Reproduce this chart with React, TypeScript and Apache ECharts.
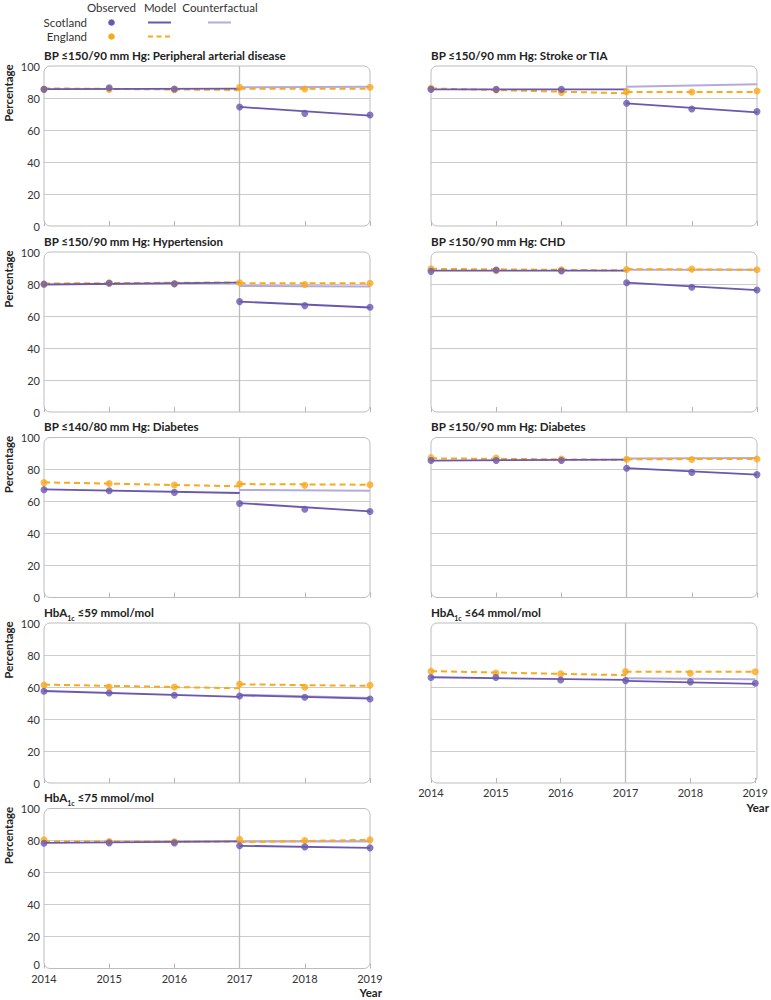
import React, { useEffect, useRef } from "react";
import * as echarts from "echarts";

// ---------- data ----------
const years = [2014, 2015, 2016, 2017, 2018, 2019];
const breakYear = 2017;
const preYears = [2014, 2017];
const postYears = [2017, 2019];
const yMin = 0;
const yMax = 100;
const yStep = 20;

const panelTitles = [
  "{b|BP ≤150/90 mm Hg: Peripheral arterial disease}",
  "{b|BP ≤150/90 mm Hg: Stroke or TIA}",
  "{b|BP ≤150/90 mm Hg: Hypertension}",
  "{b|BP ≤150/90 mm Hg: CHD}",
  "{b|BP ≤140/80 mm Hg: Diabetes}",
  "{b|BP ≤150/90 mm Hg: Diabetes}",
  "{b|HbA}{s|1c}{b| ≤59 mmol/mol}",
  "{b|HbA}{s|1c}{b| ≤64 mmol/mol}",
  "{b|HbA}{s|1c}{b| ≤75 mmol/mol}",
];

const scotlandObserved = [
  [85.4, 86.4, 85.6, 74.4, 70.4, 69.4],
  [85.4, 85.4, 85.4, 76.7, 73.1, 71.5],
  [79.9, 80.5, 80.1, 69.0, 66.5, 65.5],
  [87.9, 88.7, 88.1, 80.8, 78.0, 76.2],
  [67.4, 66.7, 65.7, 58.8, 55.2, 53.8],
  [85.6, 85.6, 85.6, 80.8, 78.2, 76.8],
  [57.3, 56.3, 54.8, 54.4, 53.6, 52.5],
  [65.9, 65.9, 64.4, 64.0, 63.2, 62.3],
  [78.3, 78.5, 78.5, 76.7, 76.0, 75.4],
];

const englandObserved = [
  [85.6, 85.4, 85.2, 86.7, 85.6, 86.7],
  [86.0, 85.0, 83.5, 84.0, 83.8, 84.4],
  [80.0, 80.7, 80.1, 80.8, 79.7, 80.5],
  [89.5, 88.5, 88.9, 89.1, 89.3, 88.9],
  [71.8, 71.3, 70.3, 70.9, 70.1, 70.5],
  [87.4, 87.2, 86.6, 86.4, 86.2, 86.6],
  [61.3, 60.0, 60.0, 61.9, 59.8, 61.1],
  [69.9, 68.8, 68.2, 69.7, 68.6, 69.5],
  [80.4, 79.4, 79.2, 80.8, 80.0, 80.4],
];

// model values at [2014, 2017] (pre) and [2017, 2019] (post)
const scotlandPreModel = [
  [85.6, 85.9], [85.4, 85.4], [79.7, 80.8], [88.3, 88.3], [67.6, 65.3],
  [85.6, 86.2], [57.5, 53.8], [66.1, 64.4], [78.5, 79.4],
];
const scotlandPostModel = [
  [74.4, 69.0], [76.7, 71.0], [69.0, 65.3], [80.8, 76.2], [59.0, 53.8],
  [80.8, 76.8], [54.8, 52.7], [63.8, 61.9], [76.7, 75.4],
];
const scotlandCounterfactual = [
  [86.7, 87.0], [87.0, 88.6], [78.7, 78.5], [88.9, 88.9], [67.2, 66.7],
  [86.8, 87.2], [55.2, 53.1], [65.5, 64.9], [79.4, 79.4],
];
const englandPreModel = [
  [86.0, 85.0], [86.0, 82.9], [80.3, 81.0], [89.5, 88.5], [72.0, 69.5],
  [87.0, 86.0], [61.5, 59.2], [69.9, 67.4], [79.4, 79.4],
];
const englandPostModel = [
  [85.8, 85.8], [83.8, 83.8], [80.5, 80.5], [89.3, 88.9], [70.9, 70.5],
  [86.4, 86.6], [61.7, 60.7], [69.5, 69.5], [79.0, 80.4],
];

const legendRows = ["Scotland", "England"];
const legendCols = ["Observed", "Model", "Counterfactual"];

// ---------- style / layout ----------
const PURPLE = "#6a57ae";
const LIGHT_PURPLE = "#b4abdc";
const ORANGE = "#f9a91b";
const FONT = "Lato, 'Noto Sans', sans-serif";
const colX = [44, 431];
const rowTop = [66, 252, 437.5, 623, 808.5];
const plotW = 326;
const plotH = 160;

const panelPos = [
  [0, 0], [1, 0], [0, 1], [1, 1], [0, 2], [1, 2], [0, 3], [1, 3], [0, 4],
];
const bottomPanels = [7, 8];

export default function App() {
  const ref = useRef<HTMLDivElement>(null);

  useEffect(() => {
    if (!ref.current) return;
    const chart = echarts.init(ref.current, undefined, { renderer: "svg" });

    const grids: any[] = [];
    const xAxes: any[] = [];
    const yAxes: any[] = [];
    const series: any[] = [];
    const graphic: any[] = [];

    panelTitles.forEach((title, i) => {
      const [c, r] = panelPos[i];
      const left = colX[c];
      const top = rowTop[r];
      const isBottom = bottomPanels.includes(i);
      const isLeft = c === 0;
      grids.push({ left, top, width: plotW, height: plotH, containLabel: false });
      xAxes.push({
        gridIndex: i,
        type: "value",
        min: years[0],
        max: years[years.length - 1],
        interval: 1,
        axisLine: { show: false },
        axisTick: { show: true, inside: true, length: 5, lineStyle: { color: "#b5b5b5" } },
        splitLine: { show: false },
        axisLabel: {
          show: isBottom,
          formatter: (v: number) => String(v),
          color: "#333",
          fontSize: 11,
          fontFamily: FONT,
          margin: 4,
        },
      });
      const liftZero = isLeft && isBottom;
      yAxes.push({
        gridIndex: i,
        type: "value",
        min: yMin,
        max: yMax,
        interval: yStep,
        axisLine: { show: false },
        axisTick: { show: false },
        splitLine: {
          show: true,
          showMinLine: false,
          showMaxLine: false,
          lineStyle: { color: "#cbcbcb", width: 1 },
        },
        axisLabel: {
          show: isLeft,
          color: "#333",
          fontSize: 11,
          fontFamily: FONT,
          margin: 4,
          formatter: (v: number) => (liftZero && v === yMin ? `{z|${v}}` : String(v)),
          rich: {
            z: { fontSize: 11, fontFamily: FONT, color: "#333", padding: [0, 0, 8, 0] },
          },
        },
      });

      const base = { xAxisIndex: i, yAxisIndex: i, silent: true };
      series.push({
        ...base,
        type: "line",
        name: "Counterfactual",
        data: postYears.map((y, k) => [y, scotlandCounterfactual[i][k]]),
        symbol: "none",
        lineStyle: { color: LIGHT_PURPLE, width: 2 },
        z: 2,
        markLine: {
          silent: true,
          symbol: "none",
          label: { show: false },
          lineStyle: { color: "#bcbcbc", width: 1.3, type: "solid" },
          data: [{ xAxis: breakYear }],
          z: 1,
        },
      });
      [englandPreModel, englandPostModel].forEach((m, j) => {
        const xs = j === 0 ? preYears : postYears;
        series.push({
          ...base,
          type: "line",
          data: xs.map((y, k) => [y, m[i][k]]),
          symbol: "none",
          lineStyle: { color: ORANGE, width: 2, type: [6, 4] },
          z: 3,
        });
      });
      [scotlandPreModel, scotlandPostModel].forEach((m, j) => {
        const xs = j === 0 ? preYears : postYears;
        series.push({
          ...base,
          type: "line",
          data: xs.map((y, k) => [y, m[i][k]]),
          symbol: "none",
          lineStyle: { color: PURPLE, width: 1.8 },
          z: 4,
        });
      });
      series.push({
        ...base,
        type: "scatter",
        data: years.map((y, k) => [y, englandObserved[i][k]]),
        symbolSize: 7,
        itemStyle: { color: ORANGE },
        z: 5,
      });
      series.push({
        ...base,
        type: "scatter",
        data: years.map((y, k) => [y, scotlandObserved[i][k]]),
        symbolSize: 7,
        itemStyle: { color: PURPLE },
        z: 6,
      });

      // rounded frame
      graphic.push({
        type: "rect",
        shape: { x: left, y: top, width: plotW, height: plotH, r: 6 },
        style: { fill: "none", stroke: "#bdbdbd", lineWidth: 1 },
        silent: true,
        z: 1,
      });
      // title
      graphic.push({
        type: "text",
        x: left,
        y: top - 11,
        style: {
          text: title,
          align: "left",
          verticalAlign: "middle",
          rich: {
            b: { fontSize: 11.6, fontWeight: "bold", fontFamily: FONT, fill: "#222", lineHeight: 18 },
            s: { fontSize: 7, fontWeight: "bold", fontFamily: FONT, fill: "#222", lineHeight: 10, verticalAlign: "bottom" },
          },
        },
        silent: true,
      });
      if (isLeft) {
        graphic.push({
          type: "text",
          x: 8,
          y: top + 27,
          rotation: Math.PI / 2,
          style: {
            text: "Percentage",
            align: "center",
            verticalAlign: "middle",
            font: `bold 11.5px ${FONT}`,
            fill: "#222",
          },
          silent: true,
        });
      }
      if (isBottom) {
        graphic.push({
          type: "text",
          x: left + plotW + 12,
          y: top + plotH + 24,
          style: {
            text: "Year",
            align: "right",
            verticalAlign: "middle",
            font: `bold 11.5px ${FONT}`,
            fill: "#222",
          },
          silent: true,
        });
      }
    });

    // legend
    const colCenters = [111.5, 160, 220];
    const rowYs = [22.5, 36.5];
    legendCols.forEach((t, k) => {
      graphic.push({
        type: "text",
        x: colCenters[k],
        y: 7,
        style: { text: t, align: "center", verticalAlign: "middle", font: `11.5px ${FONT}`, fill: "#333" },
        silent: true,
      });
    });
    legendRows.forEach((t, k) => {
      graphic.push({
        type: "text",
        x: 87,
        y: rowYs[k],
        style: { text: t, align: "right", verticalAlign: "middle", font: `11.5px ${FONT}`, fill: "#333" },
        silent: true,
      });
      graphic.push({
        type: "circle",
        shape: { cx: colCenters[0], cy: rowYs[k], r: 3.3 },
        style: { fill: k === 0 ? PURPLE : ORANGE },
        silent: true,
      });
      graphic.push({
        type: "line",
        shape: { x1: 148, y1: rowYs[k], x2: 171, y2: rowYs[k] },
        style: {
          stroke: k === 0 ? PURPLE : ORANGE,
          lineWidth: 2,
          lineDash: k === 0 ? null : [5, 3.5],
        },
        silent: true,
      });
    });
    graphic.push({
        type: "line",
        shape: { x1: 208, y1: rowYs[0], x2: 231, y2: rowYs[0] },
        style: { stroke: LIGHT_PURPLE, lineWidth: 2 },
        silent: true,
    });

    chart.setOption({
      animation: false,
      backgroundColor: "#fff",
      grid: grids,
      xAxis: xAxes,
      yAxis: yAxes,
      series,
      graphic,
    });

    return () => chart.dispose();
  }, []);

  return (
    <div
      ref={ref}
      style={{ position: "absolute", left: 0, top: 0, width: 771, height: 1000 }}
    />
  );
}
